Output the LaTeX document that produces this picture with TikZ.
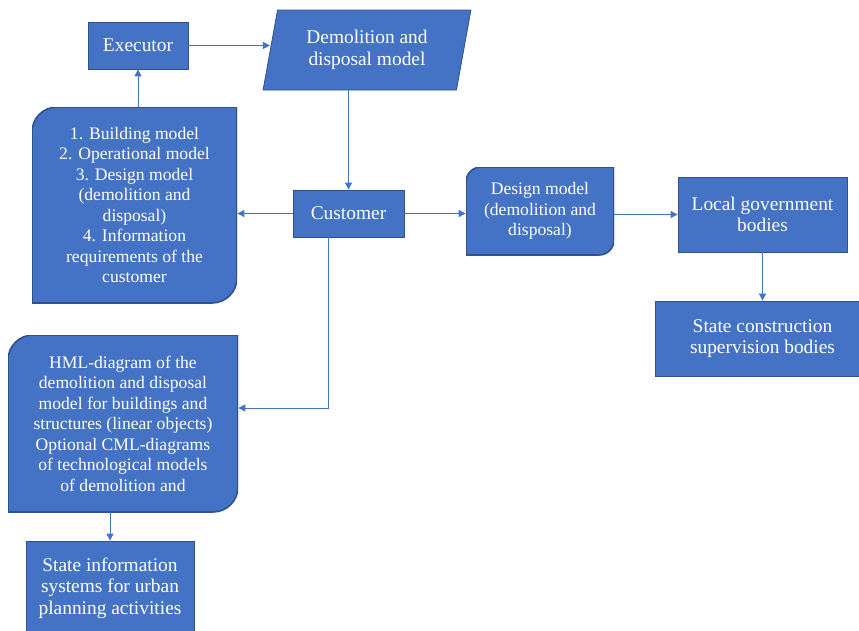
\documentclass[tikz,border=0pt]{standalone}
\usepackage{fontspec}
\setmainfont{Liberation Serif}
\newfontfamily\timesfont{Liberation Serif}
\usetikzlibrary{positioning}
\usetikzlibrary{arrows.meta,shapes.geometric}
\definecolor{boxblue}{HTML}{4472C4}
\definecolor{boxedge}{HTML}{2F528F}
\definecolor{lineblue}{HTML}{4472C4}

\begin{document}
\begin{tikzpicture}[x=1pt,y=-1pt]

\tikzset{block/.style = {rectangle,draw=boxedge,fill=boxblue,text=white,line width=0.8pt,
  align=center,inner sep=0pt,font=\timesfont\fontsize{19.4}{21.7}\selectfont}}
\tikzset{data/.style = {block,trapezium,trapezium left angle=76,trapezium right angle=104,
  trapezium stretches=true}}
\tikzset{note/.style = {block,draw=none,fill=none,font=\timesfont\fontsize{17.6}{20.5}\selectfont,
  path picture={\filldraw[fill=boxblue,draw=boxedge,line width=1.6pt]
    ([yshift=-#1]path picture bounding box.north west) arc[start angle=180,end angle=90,radius=#1]
    -- (path picture bounding box.north east) -- ([yshift=#1]path picture bounding box.south east)
    arc[start angle=0,end angle=-90,radius=#1] -- (path picture bounding box.south west) -- cycle;}}}
\tikzset{edge/.style = {->,>={Triangle[length=7pt,width=7pt]},draw=lineblue,line width=0.9pt}}

\clip (0,0) rectangle (859,630);

%boxes
\node[block,minimum width=100pt,minimum height=47pt] (exec) at (138,45.5) {Executor};
\node[data,minimum width=208pt,minimum height=80pt] (model) at (367,50) {Demolition and\\disposal model};
\node[note=25pt,minimum width=205pt,minimum height=196pt] (reqs) at (134.5,205)
  {1. Building model\\2. Operational model\\3. Design model\\(demolition and\\disposal)\\4. Information\\requirements of the\\customer};
\node[block,minimum width=111pt,minimum height=47pt] (cust) at (348.5,213.5) {Customer};
\node[note=15pt,minimum width=148pt,minimum height=88pt] (design) at (540,211)
  {Design model\\(demolition and\\disposal)};
\node[block,minimum width=169pt,minimum height=75pt] (local) at (762.5,214.5) {Local government\\bodies};
\node[block,minimum width=215pt,minimum height=75pt] (supv) at (762.5,338.5) {State construction\\supervision bodies};
\node[note=25pt,minimum width=230pt,minimum height=177pt] (hml) at (123,423.5)
  {HML-diagram of the\\demolition and disposal\\model for buildings and\\structures (linear objects)\\Optional CML-diagrams\\of technological models\\of demolition and};
\node[block,minimum width=168pt,minimum height=94pt] (sis) at (110,588)
  {State information\\systems for urban\\planning activities};

%edges
\draw[edge] (exec.east) -- (exec.east -| model.west);
\draw[edge] (exec.south |- reqs.north) -- (exec.south);
\draw[edge] (model.south -| cust.north) -- (cust.north);
\draw[edge] (cust.west) -- (cust.west -| reqs.east);
\draw[edge] (cust.east) -- (cust.east -| design.west);
\draw[edge] (design.east |- local.west) -- (local.west);
\draw[edge] (local.south) -- (supv.north);
\draw[edge] ([xshift=-20.5pt]cust.south) |- ([yshift=15.5pt]hml.east);
\draw[edge] (sis.north |- hml.south) -- (sis.north);

\end{tikzpicture}
\end{document}
